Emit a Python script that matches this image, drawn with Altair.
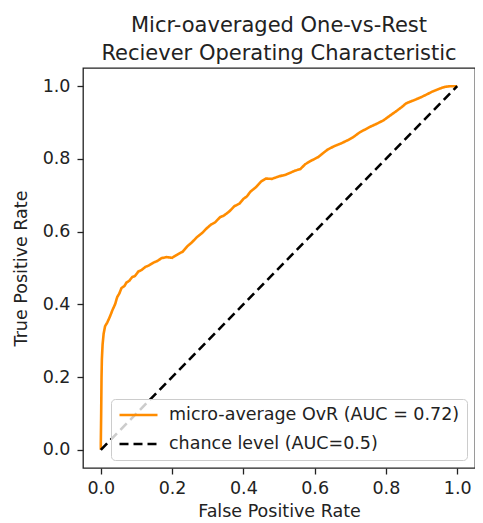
import altair as alt
import pandas as pd

# ROC curve (micro-average OvR)
fpr = [0.0, 0.0, 0.001, 0.002, 0.003, 0.005, 0.008, 0.012, 0.018, 0.025,
       0.033, 0.040, 0.046, 0.052, 0.058, 0.066, 0.072, 0.080, 0.088, 0.096,
       0.105, 0.115, 0.125, 0.135, 0.148, 0.160, 0.170, 0.185, 0.200, 0.215,
       0.230, 0.243, 0.255, 0.270, 0.285, 0.298, 0.310, 0.320, 0.335, 0.345,
       0.360, 0.375, 0.389, 0.400, 0.410, 0.420, 0.435, 0.450, 0.463, 0.480,
       0.500, 0.520, 0.546, 0.560, 0.573, 0.590, 0.610, 0.625, 0.637, 0.655,
       0.675, 0.692, 0.710, 0.725, 0.738, 0.755, 0.775, 0.793, 0.810, 0.830,
       0.845, 0.857, 0.875, 0.895, 0.912, 0.930, 0.950, 0.965, 0.980, 0.995,
       1.0]
tpr = [0.0, 0.02, 0.10, 0.20, 0.25, 0.29, 0.32, 0.34, 0.35, 0.365,
       0.385, 0.40, 0.42, 0.43, 0.445, 0.45, 0.46, 0.465, 0.475, 0.478,
       0.49, 0.495, 0.503, 0.507, 0.515, 0.52, 0.527, 0.53, 0.528, 0.537,
       0.545, 0.56, 0.57, 0.585, 0.597, 0.61, 0.62, 0.625, 0.64, 0.644,
       0.655, 0.67, 0.677, 0.69, 0.697, 0.71, 0.722, 0.738, 0.746, 0.745,
       0.752, 0.757, 0.768, 0.772, 0.785, 0.795, 0.805, 0.817, 0.826, 0.835,
       0.843, 0.851, 0.861, 0.872, 0.879, 0.888, 0.897, 0.906, 0.918, 0.932,
       0.943, 0.953, 0.96, 0.968, 0.976, 0.985, 0.993, 0.998, 1.0, 1.0,
       1.0]

chance_fpr = [0.0, 1.0]
chance_tpr = [0.0, 1.0]

series = ["micro-average OvR (AUC = 0.72)", "chance level (AUC=0.5)"]
colors = ["darkorange", "black"]
dashes = [[1, 0], [9, 5]]
ticks = [0.0, 0.2, 0.4, 0.6, 0.8, 1.0]

roc_df = pd.DataFrame({"fpr": fpr, "tpr": tpr, "series": series[0],
                       "order": list(range(len(fpr)))})
chance_df = pd.DataFrame({"fpr": chance_fpr, "tpr": chance_tpr, "series": series[1],
                          "order": [0, 1]})

FONT = "DejaVu Sans"
TXT = "#222222"

x_enc = alt.X("fpr:Q",
              scale=alt.Scale(domain=[-0.05, 1.05], nice=False, zero=False),
              axis=alt.Axis(values=ticks, format=".1f", title="False Positive Rate",
                            grid=False, domain=False, tickSize=6, tickWidth=1.3,
                            tickColor="#222222", labelPadding=5, titlePadding=6,
                            labelFontSize=17.5, titleFontSize=17.5,
                            titleFontWeight="normal", labelFont=FONT, titleFont=FONT,
                            labelColor=TXT, titleColor=TXT))
y_enc = alt.Y("tpr:Q",
              scale=alt.Scale(domain=[-0.05, 1.05], nice=False, zero=False),
              axis=alt.Axis(values=ticks, format=".1f", title="True Positive Rate",
                            grid=False, domain=False, tickSize=6, tickWidth=1.3,
                            tickColor="#222222", labelPadding=7, titlePadding=12,
                            labelFontSize=17.5, titleFontSize=17.5,
                            titleFontWeight="normal", labelFont=FONT, titleFont=FONT,
                            labelColor=TXT, titleColor=TXT))

color_enc = alt.Color("series:N",
                      scale=alt.Scale(domain=series, range=colors),
                      legend=alt.Legend(title=None, orient="bottom-right", offset=8,
                                        symbolType="stroke", symbolSize=1444,
                                        symbolStrokeWidth=2.6, clipHeight=18,
                                        rowPadding=11, labelOffset=10,
                                        labelFontSize=17.5, labelFont=FONT,
                                        labelColor=TXT, padding=7,
                                        fillColor="rgba(255,255,255,0.8)",
                                        strokeColor="#cccccc", cornerRadius=4,
                                        labelLimit=400))
dash_enc = alt.StrokeDash("series:N",
                          scale=alt.Scale(domain=series, range=dashes),
                          legend=alt.Legend(title=None))

roc_line = alt.Chart(roc_df).mark_line(strokeWidth=2.6).encode(
    x=x_enc, y=y_enc, color=color_enc, strokeDash=dash_enc, order="order:Q")
chance_line = alt.Chart(chance_df).mark_line(strokeWidth=2.6).encode(
    x=x_enc, y=y_enc, color=color_enc, strokeDash=dash_enc, order="order:Q")

chart = alt.layer(roc_line, chance_line).properties(
    width=392, height=400,
    title=alt.TitleParams(text=["Micr-oaveraged One-vs-Rest",
                                "Reciever Operating Characteristic"],
                          fontSize=21, font=FONT, fontWeight="normal", color=TXT,
                          anchor="middle", offset=4, lineHeight=28),
    autosize=alt.AutoSizeParams(type="none"),
    padding={"left": 75, "top": 60, "right": 0, "bottom": 55},
).configure_view(stroke="#222222", strokeWidth=1.3)

chart.save("out.html", embed_options={"renderer": "svg", "actions": False})
